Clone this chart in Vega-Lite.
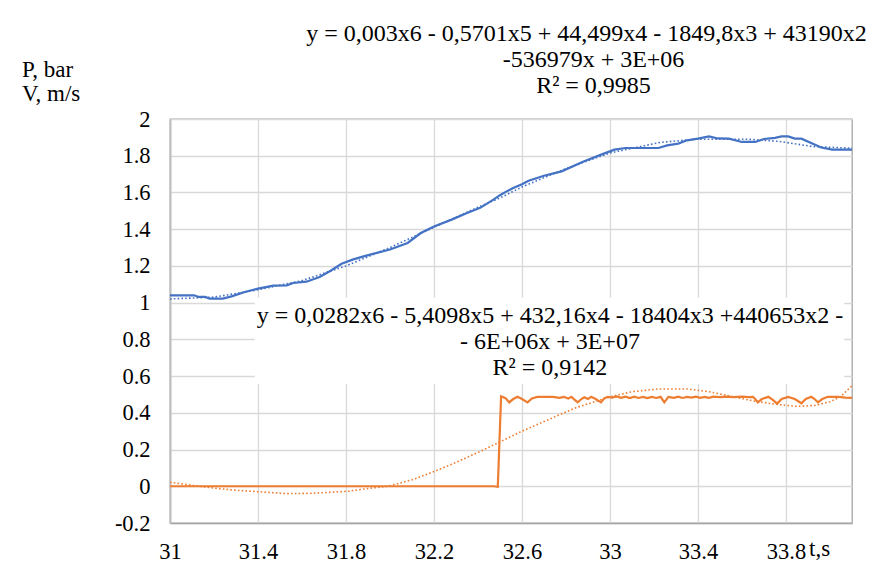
{
  "$schema": "https://vega.github.io/schema/vega-lite/v6.json",
  "width": 682,
  "height": 404,
  "autosize": {"type": "none"},
  "padding": {"left": 170, "top": 119, "right": 21, "bottom": 48},
  "background": "white",
  "config": {
    "font": "Liberation Serif",
    "view": {"stroke": "#a6a6a6", "strokeWidth": 1.3},
    "axisX": {"ticks": false, "tickSize": 0, "labelPadding": 35, "labelBaseline": "alphabetic",
      "labelFont": "Liberation Serif", "labelFontSize": 22.5, "labelColor": "black",
      "labelOverlap": false, "labelFlush": false, "labelBound": false,
      "domainColor": "#a6a6a6", "domainWidth": 1.3, "gridColor": "#d9d9d9", "gridWidth": 1.3},
    "axisY": {"ticks": false, "tickSize": 0, "labelPadding": 20,
      "labelFont": "Liberation Serif", "labelFontSize": 22.5, "labelColor": "black",
      "labelOverlap": false, "labelFlush": false, "labelBound": false,
      "domainColor": "#bfbfbf", "domainWidth": 2, "gridColor": "#d9d9d9", "gridWidth": 1.3}
  },
  "datasets": {
    "blue": [
      {"t":31.0,"v":1.040},{"t":31.11,"v":1.040},{"t":31.13,"v":1.031},{"t":31.16,"v":1.031},{"t":31.18,"v":1.022},{"t":31.24,"v":1.022},{"t":31.28,"v":1.034},{"t":31.34,"v":1.058},{"t":31.40,"v":1.076},{"t":31.47,"v":1.093},{"t":31.53,"v":1.094},{"t":31.56,"v":1.107},{"t":31.62,"v":1.114},{"t":31.68,"v":1.140},{"t":31.73,"v":1.174},{"t":31.78,"v":1.212},{"t":31.83,"v":1.234},{"t":31.88,"v":1.252},{"t":31.94,"v":1.271},{"t":32.00,"v":1.289},{"t":32.08,"v":1.325},{"t":32.14,"v":1.379},{"t":32.20,"v":1.415},{"t":32.28,"v":1.452},{"t":32.35,"v":1.488},{"t":32.41,"v":1.516},{"t":32.47,"v":1.561},{"t":32.50,"v":1.585},{"t":32.53,"v":1.606},{"t":32.56,"v":1.624},{"t":32.60,"v":1.645},{"t":32.63,"v":1.664},{"t":32.70,"v":1.691},{"t":32.78,"v":1.715},{"t":32.88,"v":1.769},{"t":32.96,"v":1.806},{"t":33.02,"v":1.833},{"t":33.07,"v":1.842},{"t":33.22,"v":1.842},{"t":33.26,"v":1.856},{"t":33.31,"v":1.866},{"t":33.35,"v":1.884},{"t":33.40,"v":1.893},{"t":33.45,"v":1.905},{"t":33.49,"v":1.894},{"t":33.54,"v":1.893},{"t":33.60,"v":1.875},{"t":33.66,"v":1.875},{"t":33.70,"v":1.891},{"t":33.75,"v":1.897},{"t":33.78,"v":1.905},{"t":33.81,"v":1.905},{"t":33.84,"v":1.893},{"t":33.87,"v":1.893},{"t":33.96,"v":1.845},{"t":34.01,"v":1.833},{"t":34.10,"v":1.833}
    ],
    "blueTrend": [
      {"t":31.0,"v":1.02},{"t":31.2,"v":1.03},{"t":31.4,"v":1.07},{"t":31.6,"v":1.12},{"t":31.8,"v":1.20},{"t":32.0,"v":1.30},{"t":32.2,"v":1.41},{"t":32.4,"v":1.52},{"t":32.5,"v":1.57},{"t":32.6,"v":1.63},{"t":32.8,"v":1.73},{"t":33.0,"v":1.815},{"t":33.23,"v":1.873},{"t":33.39,"v":1.89},{"t":33.62,"v":1.89},{"t":33.77,"v":1.878},{"t":33.92,"v":1.85},{"t":34.08,"v":1.842},{"t":34.1,"v":1.84}
    ],
    "orange": [
      {"t":31.0,"v":0},{"t":32.47,"v":0},{"t":32.49,"v":-0.003},{"t":32.505,"v":0.49},{"t":32.525,"v":0.48},{"t":32.542,"v":0.457},{"t":32.56,"v":0.475},{"t":32.58,"v":0.487},{"t":32.60,"v":0.475},{"t":32.625,"v":0.457},{"t":32.645,"v":0.478},{"t":32.67,"v":0.487},{"t":32.70,"v":0.487},{"t":32.74,"v":0.487},{"t":32.77,"v":0.482},{"t":32.79,"v":0.487},{"t":32.81,"v":0.478},{"t":32.825,"v":0.487},{"t":32.84,"v":0.47},{"t":32.853,"v":0.457},{"t":32.87,"v":0.475},{"t":32.883,"v":0.485},{"t":32.90,"v":0.475},{"t":32.914,"v":0.487},{"t":32.935,"v":0.475},{"t":32.959,"v":0.457},{"t":32.975,"v":0.48},{"t":32.99,"v":0.487},{"t":33.01,"v":0.483},{"t":33.03,"v":0.489},{"t":33.05,"v":0.482},{"t":33.07,"v":0.488},{"t":33.09,"v":0.48},{"t":33.11,"v":0.488},{"t":33.13,"v":0.481},{"t":33.15,"v":0.487},{"t":33.17,"v":0.48},{"t":33.19,"v":0.487},{"t":33.21,"v":0.481},{"t":33.23,"v":0.487},{"t":33.247,"v":0.457},{"t":33.265,"v":0.487},{"t":33.29,"v":0.482},{"t":33.31,"v":0.488},{"t":33.33,"v":0.481},{"t":33.35,"v":0.487},{"t":33.37,"v":0.483},{"t":33.39,"v":0.488},{"t":33.41,"v":0.482},{"t":33.43,"v":0.487},{"t":33.45,"v":0.482},{"t":33.47,"v":0.488},{"t":33.50,"v":0.485},{"t":33.53,"v":0.488},{"t":33.56,"v":0.486},{"t":33.60,"v":0.488},{"t":33.63,"v":0.486},{"t":33.65,"v":0.487},{"t":33.66,"v":0.475},{"t":33.672,"v":0.457},{"t":33.69,"v":0.475},{"t":33.72,"v":0.487},{"t":33.74,"v":0.47},{"t":33.76,"v":0.45},{"t":33.78,"v":0.475},{"t":33.81,"v":0.487},{"t":33.84,"v":0.475},{"t":33.87,"v":0.452},{"t":33.89,"v":0.475},{"t":33.915,"v":0.487},{"t":33.93,"v":0.475},{"t":33.945,"v":0.457},{"t":33.965,"v":0.475},{"t":33.99,"v":0.487},{"t":34.04,"v":0.487},{"t":34.07,"v":0.483},{"t":34.10,"v":0.481}
    ],
    "orangeTrend": [
      {"t":31.0,"v":0.022},{"t":31.1,"v":0.005},{"t":31.2,"v":-0.01},{"t":31.3,"v":-0.022},{"t":31.41,"v":-0.03},{"t":31.53,"v":-0.04},{"t":31.65,"v":-0.038},{"t":31.81,"v":-0.027},{"t":31.9,"v":-0.012},{"t":31.99,"v":0.0},{"t":32.1,"v":0.035},{"t":32.2,"v":0.08},{"t":32.3,"v":0.13},{"t":32.41,"v":0.19},{"t":32.49,"v":0.236},{"t":32.6,"v":0.30},{"t":32.72,"v":0.363},{"t":32.85,"v":0.43},{"t":33.0,"v":0.487},{"t":33.1,"v":0.515},{"t":33.22,"v":0.53},{"t":33.35,"v":0.53},{"t":33.45,"v":0.515},{"t":33.55,"v":0.49},{"t":33.65,"v":0.465},{"t":33.75,"v":0.447},{"t":33.85,"v":0.435},{"t":33.93,"v":0.44},{"t":34.0,"v":0.46},{"t":34.05,"v":0.49},{"t":34.1,"v":0.548}
    ]
  },
  "layer": [
    {
      "data": {"name": "blue"},
      "mark": {"type": "line", "color": "#4472C4", "strokeWidth": 2.2},
      "encoding": {
        "x": {"field": "t", "type": "quantitative", "scale": {"domain": [31, 34.1], "nice": false, "zero": false},
          "axis": {"values": [31, 31.4, 31.8, 32.2, 32.6, 33, 33.4, 33.8], "labelExpr": "format(datum.value, '~g')", "title": null}},
        "y": {"field": "v", "type": "quantitative", "scale": {"domain": [-0.2, 2], "nice": false, "zero": false},
          "axis": {"values": [-0.2, 0, 0.2, 0.4, 0.6, 0.8, 1, 1.2, 1.4, 1.6, 1.8, 2], "labelExpr": "datum.value < 0 ? '-' + format(-datum.value, '~g') : format(datum.value, '~g')", "title": null}}
      }
    },
    {
      "data": {"name": "blueTrend"},
      "mark": {"type": "line", "color": "#4472C4", "strokeWidth": 1.6, "strokeDash": [1.6, 2.2]},
      "encoding": {
        "x": {"field": "t", "type": "quantitative", "scale": {"domain": [31, 34.1], "nice": false, "zero": false},
          "axis": {"values": [31, 31.4, 31.8, 32.2, 32.6, 33, 33.4, 33.8], "labelExpr": "format(datum.value, '~g')", "title": null}},
        "y": {"field": "v", "type": "quantitative", "scale": {"domain": [-0.2, 2], "nice": false, "zero": false},
          "axis": {"values": [-0.2, 0, 0.2, 0.4, 0.6, 0.8, 1, 1.2, 1.4, 1.6, 1.8, 2], "labelExpr": "datum.value < 0 ? '-' + format(-datum.value, '~g') : format(datum.value, '~g')", "title": null}}
      }
    },
    {
      "data": {"name": "orangeTrend"},
      "mark": {"type": "line", "color": "#ED7D31", "strokeWidth": 1.6, "strokeDash": [1.6, 2.2]},
      "encoding": {
        "x": {"field": "t", "type": "quantitative", "scale": {"domain": [31, 34.1], "nice": false, "zero": false},
          "axis": {"values": [31, 31.4, 31.8, 32.2, 32.6, 33, 33.4, 33.8], "labelExpr": "format(datum.value, '~g')", "title": null}},
        "y": {"field": "v", "type": "quantitative", "scale": {"domain": [-0.2, 2], "nice": false, "zero": false},
          "axis": {"values": [-0.2, 0, 0.2, 0.4, 0.6, 0.8, 1, 1.2, 1.4, 1.6, 1.8, 2], "labelExpr": "datum.value < 0 ? '-' + format(-datum.value, '~g') : format(datum.value, '~g')", "title": null}}
      }
    },
    {
      "data": {"name": "orange"},
      "mark": {"type": "line", "color": "#ED7D31", "strokeWidth": 2.2},
      "encoding": {
        "x": {"field": "t", "type": "quantitative", "scale": {"domain": [31, 34.1], "nice": false, "zero": false},
          "axis": {"values": [31, 31.4, 31.8, 32.2, 32.6, 33, 33.4, 33.8], "labelExpr": "format(datum.value, '~g')", "title": null}},
        "y": {"field": "v", "type": "quantitative", "scale": {"domain": [-0.2, 2], "nice": false, "zero": false},
          "axis": {"values": [-0.2, 0, 0.2, 0.4, 0.6, 0.8, 1, 1.2, 1.4, 1.6, 1.8, 2], "labelExpr": "datum.value < 0 ? '-' + format(-datum.value, '~g') : format(datum.value, '~g')", "title": null}}
      }
    },
    {
      "data": {"values": [{}]},
      "mark": {"type": "rect", "fill": "white", "stroke": null},
      "encoding": {
        "x": {"datum": 31.385, "type": "quantitative", "scale": {"domain": [31, 34.1], "nice": false, "zero": false},
          "axis": {"values": [31, 31.4, 31.8, 32.2, 32.6, 33, 33.4, 33.8], "labelExpr": "format(datum.value, '~g')", "title": null}},
        "x2": {"datum": 34.065},
        "y": {"datum": 0.557, "type": "quantitative", "scale": {"domain": [-0.2, 2], "nice": false, "zero": false},
          "axis": {"values": [-0.2, 0, 0.2, 0.4, 0.6, 0.8, 1, 1.2, 1.4, 1.6, 1.8, 2], "labelExpr": "datum.value < 0 ? '-' + format(-datum.value, '~g') : format(datum.value, '~g')", "title": null}},
        "y2": {"datum": 1.027}
      }
    },
    {
      "data": {"values": [{}]},
      "mark": {"type": "text", "font": "Liberation Serif", "fontSize": 24, "lineHeight": 26, "align": "center", "baseline": "alphabetic", "color": "black",
        "text": ["y = 0,0282x6 - 5,4098x5 + 432,16x4 - 18404x3 +440653x2 -", "- 6E+06x + 3E+07", "R² = 0,9142"]},
      "encoding": {
        "x": {"datum": 32.727, "type": "quantitative", "scale": {"domain": [31, 34.1], "nice": false, "zero": false},
          "axis": {"values": [31, 31.4, 31.8, 32.2, 32.6, 33, 33.4, 33.8], "labelExpr": "format(datum.value, '~g')", "title": null}},
        "y": {"datum": 0.8864, "type": "quantitative", "scale": {"domain": [-0.2, 2], "nice": false, "zero": false},
          "axis": {"values": [-0.2, 0, 0.2, 0.4, 0.6, 0.8, 1, 1.2, 1.4, 1.6, 1.8, 2], "labelExpr": "datum.value < 0 ? '-' + format(-datum.value, '~g') : format(datum.value, '~g')", "title": null}}
      }
    },
    {
      "data": {"values": [{}]},
      "mark": {"type": "text", "font": "Liberation Serif", "fontSize": 24, "lineHeight": 26, "align": "center", "baseline": "alphabetic", "color": "black",
        "text": ["y = 0,003x6 - 0,5701x5 + 44,499x4 - 1849,8x3 + 43190x2 -", "-536979x + 3E+06", "R² = 0,9985"]},
      "encoding": {
        "x": {"datum": 32.925, "type": "quantitative", "scale": {"domain": [31, 34.1], "nice": false, "zero": false},
          "axis": {"values": [31, 31.4, 31.8, 32.2, 32.6, 33, 33.4, 33.8], "labelExpr": "format(datum.value, '~g')", "title": null}},
        "y": {"datum": 2.4247, "type": "quantitative", "scale": {"domain": [-0.2, 2], "nice": false, "zero": false},
          "axis": {"values": [-0.2, 0, 0.2, 0.4, 0.6, 0.8, 1, 1.2, 1.4, 1.6, 1.8, 2], "labelExpr": "datum.value < 0 ? '-' + format(-datum.value, '~g') : format(datum.value, '~g')", "title": null}}
      }
    },
    {
      "data": {"values": [{}]},
      "mark": {"type": "text", "font": "Liberation Serif", "fontSize": 23, "lineHeight": 24, "align": "left", "baseline": "alphabetic", "color": "black",
        "text": ["P, bar", "V, m/s"]},
      "encoding": {
        "x": {"datum": 30.327, "type": "quantitative", "scale": {"domain": [31, 34.1], "nice": false, "zero": false},
          "axis": {"values": [31, 31.4, 31.8, 32.2, 32.6, 33, 33.4, 33.8], "labelExpr": "format(datum.value, '~g')", "title": null}},
        "y": {"datum": 2.226, "type": "quantitative", "scale": {"domain": [-0.2, 2], "nice": false, "zero": false},
          "axis": {"values": [-0.2, 0, 0.2, 0.4, 0.6, 0.8, 1, 1.2, 1.4, 1.6, 1.8, 2], "labelExpr": "datum.value < 0 ? '-' + format(-datum.value, '~g') : format(datum.value, '~g')", "title": null}}
      }
    },
    {
      "data": {"values": [{}]},
      "mark": {"type": "text", "font": "Liberation Serif", "fontSize": 23, "align": "left", "baseline": "alphabetic", "color": "black",
        "text": "t,s"},
      "encoding": {
        "x": {"datum": 33.905, "type": "quantitative", "scale": {"domain": [31, 34.1], "nice": false, "zero": false},
          "axis": {"values": [31, 31.4, 31.8, 32.2, 32.6, 33, 33.4, 33.8], "labelExpr": "format(datum.value, '~g')", "title": null}},
        "y": {"datum": -0.38, "type": "quantitative", "scale": {"domain": [-0.2, 2], "nice": false, "zero": false},
          "axis": {"values": [-0.2, 0, 0.2, 0.4, 0.6, 0.8, 1, 1.2, 1.4, 1.6, 1.8, 2], "labelExpr": "datum.value < 0 ? '-' + format(-datum.value, '~g') : format(datum.value, '~g')", "title": null}}
      }
    }
  ]
}
